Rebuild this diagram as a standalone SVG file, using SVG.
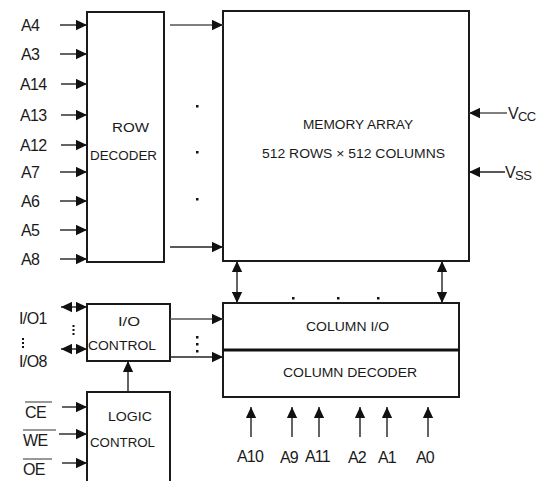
<svg xmlns="http://www.w3.org/2000/svg" width="551" height="481" viewBox="0 0 551 481">
<defs>
<marker id="ah" markerUnits="userSpaceOnUse" markerWidth="11" markerHeight="11" viewBox="0 0 10 10" refX="10" refY="5" orient="auto-start-reverse"><path d="M0,0.3 L10,5 L0,9.7 Z" fill="#111"/></marker>
<style>
.box{fill:#fff;stroke:#1a1a1a;stroke-width:2}
.ln{stroke:#222;stroke-width:1.4;fill:none}
.lg{stroke:#555;stroke-width:1.3;fill:none}
.lab{font-family:"Liberation Sans",Arial,sans-serif;font-size:16px;fill:#1a1a1a;letter-spacing:-0.6px}
.bl{font-family:"Liberation Sans",Arial,sans-serif;font-size:16px;fill:#1a1a1a;letter-spacing:-0.8px}
.in{font-family:"Liberation Sans",Arial,sans-serif;font-size:12px;fill:#1a1a1a}
.dot{fill:#111}
</style>
</defs>
<rect width="551" height="481" fill="#fff"/>
<g id="row-decoder"><rect class="box" x="87" y="12" width="77" height="250"/>
<text class="in" x="112" y="132" textLength="37" lengthAdjust="spacingAndGlyphs">ROW</text>
<text class="in" x="90" y="160" textLength="67" lengthAdjust="spacingAndGlyphs">DECODER</text></g>
<g id="memory-array"><rect class="box" x="223" y="11" width="246" height="250"/>
<text class="in" x="303" y="129" font-size="13" textLength="110" lengthAdjust="spacingAndGlyphs">MEMORY ARRAY</text>
<text class="in" x="262" y="158" font-size="13" textLength="183" lengthAdjust="spacingAndGlyphs">512 ROWS × 512 COLUMNS</text></g>
<g id="column-io"><rect class="box" x="223" y="303" width="236" height="47"/>
<text class="in" x="306" y="331" textLength="83" lengthAdjust="spacingAndGlyphs">COLUMN I/O</text></g>
<g id="column-decoder"><rect class="box" x="223" y="350" width="236" height="47"/>
<line x1="223" y1="350" x2="459" y2="350" stroke="#111" stroke-width="3"/>
<text class="in" x="283" y="377" textLength="134" lengthAdjust="spacingAndGlyphs">COLUMN DECODER</text></g>
<g id="io-control"><rect class="box" x="87" y="304" width="83" height="57"/>
<text class="in" x="118" y="326" textLength="22" lengthAdjust="spacingAndGlyphs">I/O</text>
<text class="in" x="88" y="350" textLength="68" lengthAdjust="spacingAndGlyphs">CONTROL</text></g>
<g id="logic-control"><rect class="box" x="87" y="392" width="83" height="92"/>
<text class="in" x="108" y="421" textLength="44" lengthAdjust="spacingAndGlyphs">LOGIC</text>
<text class="in" x="90" y="447" textLength="65" lengthAdjust="spacingAndGlyphs">CONTROL</text></g>
<g id="labels">
<text class="lab" x="21" y="31">A4</text>
<text class="lab" x="21" y="60">A3</text>
<text class="lab" x="20" y="90">A14</text>
<text class="lab" x="20" y="121">A13</text>
<text class="lab" x="20" y="151">A12</text>
<text class="lab" x="21" y="178">A7</text>
<text class="lab" x="21" y="207">A6</text>
<text class="lab" x="21" y="236">A5</text>
<text class="lab" x="21" y="265">A8</text>
<text class="lab" x="19" y="324">I/O1</text>
<text class="lab" x="19" y="367">I/O8</text>
<text class="lab" x="25" y="418" font-size="17">CE</text>
<text class="lab" x="23" y="446" font-size="17">WE</text>
<text class="lab" x="23" y="475" font-size="17">OE</text>
<line x1="25" y1="402" x2="52" y2="402" stroke="#333" stroke-width="1"/>
<line x1="23" y1="430" x2="56" y2="430" stroke="#333" stroke-width="1"/>
<line x1="23" y1="459" x2="52" y2="459" stroke="#333" stroke-width="1"/>
<text class="lab" x="508" y="119">V<tspan font-size="13" dy="2">CC</tspan></text>
<text class="lab" x="505" y="178">V<tspan font-size="13" dy="2">SS</tspan></text>
<text class="bl" x="237" y="462">A10</text>
<text class="bl" x="280" y="463">A9</text>
<text class="bl" x="305" y="462">A11</text>
<text class="bl" x="348" y="463">A2</text>
<text class="bl" x="378" y="463">A1</text>
<text class="bl" x="416" y="463">A0</text>
</g>
<g id="connectors">
<line class="ln" x1="60" y1="25" x2="87" y2="25" marker-end="url(#ah)"/>
<line class="ln" x1="60" y1="54" x2="87" y2="54" marker-end="url(#ah)"/>
<line class="ln" x1="61" y1="84" x2="87" y2="84" marker-end="url(#ah)"/>
<line class="ln" x1="61" y1="115" x2="87" y2="115" marker-end="url(#ah)"/>
<line class="ln" x1="61" y1="145" x2="87" y2="145" marker-end="url(#ah)"/>
<line class="ln" x1="60" y1="172" x2="87" y2="172" marker-end="url(#ah)"/>
<line class="ln" x1="60" y1="201" x2="87" y2="201" marker-end="url(#ah)"/>
<line class="ln" x1="60" y1="230" x2="87" y2="230" marker-end="url(#ah)"/>
<line class="ln" x1="60" y1="259" x2="87" y2="259" marker-end="url(#ah)"/>
<line class="lg" x1="170" y1="25" x2="223" y2="25" marker-end="url(#ah)"/>
<line class="ln" x1="170" y1="247" x2="223" y2="247" marker-end="url(#ah)"/>
<rect class="dot" x="196" y="105" width="2.5" height="2.5"/>
<rect class="dot" x="196" y="151" width="2.5" height="2.5"/>
<rect class="dot" x="196" y="198" width="2.5" height="2.5"/>
<line class="lg" x1="507" y1="113" x2="469" y2="113" marker-end="url(#ah)"/>
<line class="ln" x1="505" y1="172" x2="469" y2="172" marker-end="url(#ah)"/>
<line class="ln" x1="237" y1="261" x2="237" y2="303" marker-start="url(#ah)" marker-end="url(#ah)"/>
<line class="ln" x1="442" y1="261" x2="442" y2="303" marker-start="url(#ah)" marker-end="url(#ah)"/>
<rect class="dot" x="292" y="297" width="2.5" height="2.5"/>
<rect class="dot" x="337" y="297" width="2.5" height="2.5"/>
<rect class="dot" x="377" y="297" width="2.5" height="2.5"/>
<line class="ln" x1="251" y1="437" x2="251" y2="407" marker-end="url(#ah)"/>
<line class="ln" x1="292" y1="437" x2="292" y2="407" marker-end="url(#ah)"/>
<line class="ln" x1="319" y1="437" x2="319" y2="407" marker-end="url(#ah)"/>
<line class="ln" x1="360" y1="437" x2="360" y2="407" marker-end="url(#ah)"/>
<line class="ln" x1="387" y1="437" x2="387" y2="407" marker-end="url(#ah)"/>
<line class="ln" x1="428" y1="437" x2="428" y2="407" marker-end="url(#ah)"/>
<line class="lg" x1="170" y1="319" x2="223" y2="319" marker-end="url(#ah)"/>
<line class="ln" x1="170" y1="357" x2="223" y2="357" marker-end="url(#ah)"/>
<rect class="dot" x="196" y="336" width="2.5" height="2.5"/>
<rect class="dot" x="196" y="343" width="2.5" height="2.5"/>
<rect class="dot" x="196" y="350" width="2.5" height="2.5"/>
<line class="ln" x1="128" y1="392" x2="128" y2="361" marker-end="url(#ah)"/>
<line class="ln" x1="61" y1="307" x2="87" y2="307" marker-start="url(#ah)" marker-end="url(#ah)"/>
<line class="ln" x1="61" y1="349" x2="87" y2="349" marker-start="url(#ah)" marker-end="url(#ah)"/>
<rect class="dot" x="72.5" y="325" width="2" height="2"/>
<rect class="dot" x="72.5" y="329" width="2" height="2"/>
<rect class="dot" x="72.5" y="333" width="2" height="2"/>
<rect class="dot" x="22" y="338" width="2" height="2"/>
<rect class="dot" x="22" y="342" width="2" height="2"/>
<rect class="dot" x="22" y="346" width="2" height="2"/>
<line class="ln" x1="62" y1="407" x2="87" y2="407" marker-end="url(#ah)"/>
<line class="ln" x1="59" y1="434" x2="87" y2="434" marker-end="url(#ah)"/>
<line class="ln" x1="62" y1="463" x2="87" y2="463" marker-end="url(#ah)"/>
</g>
</svg>
